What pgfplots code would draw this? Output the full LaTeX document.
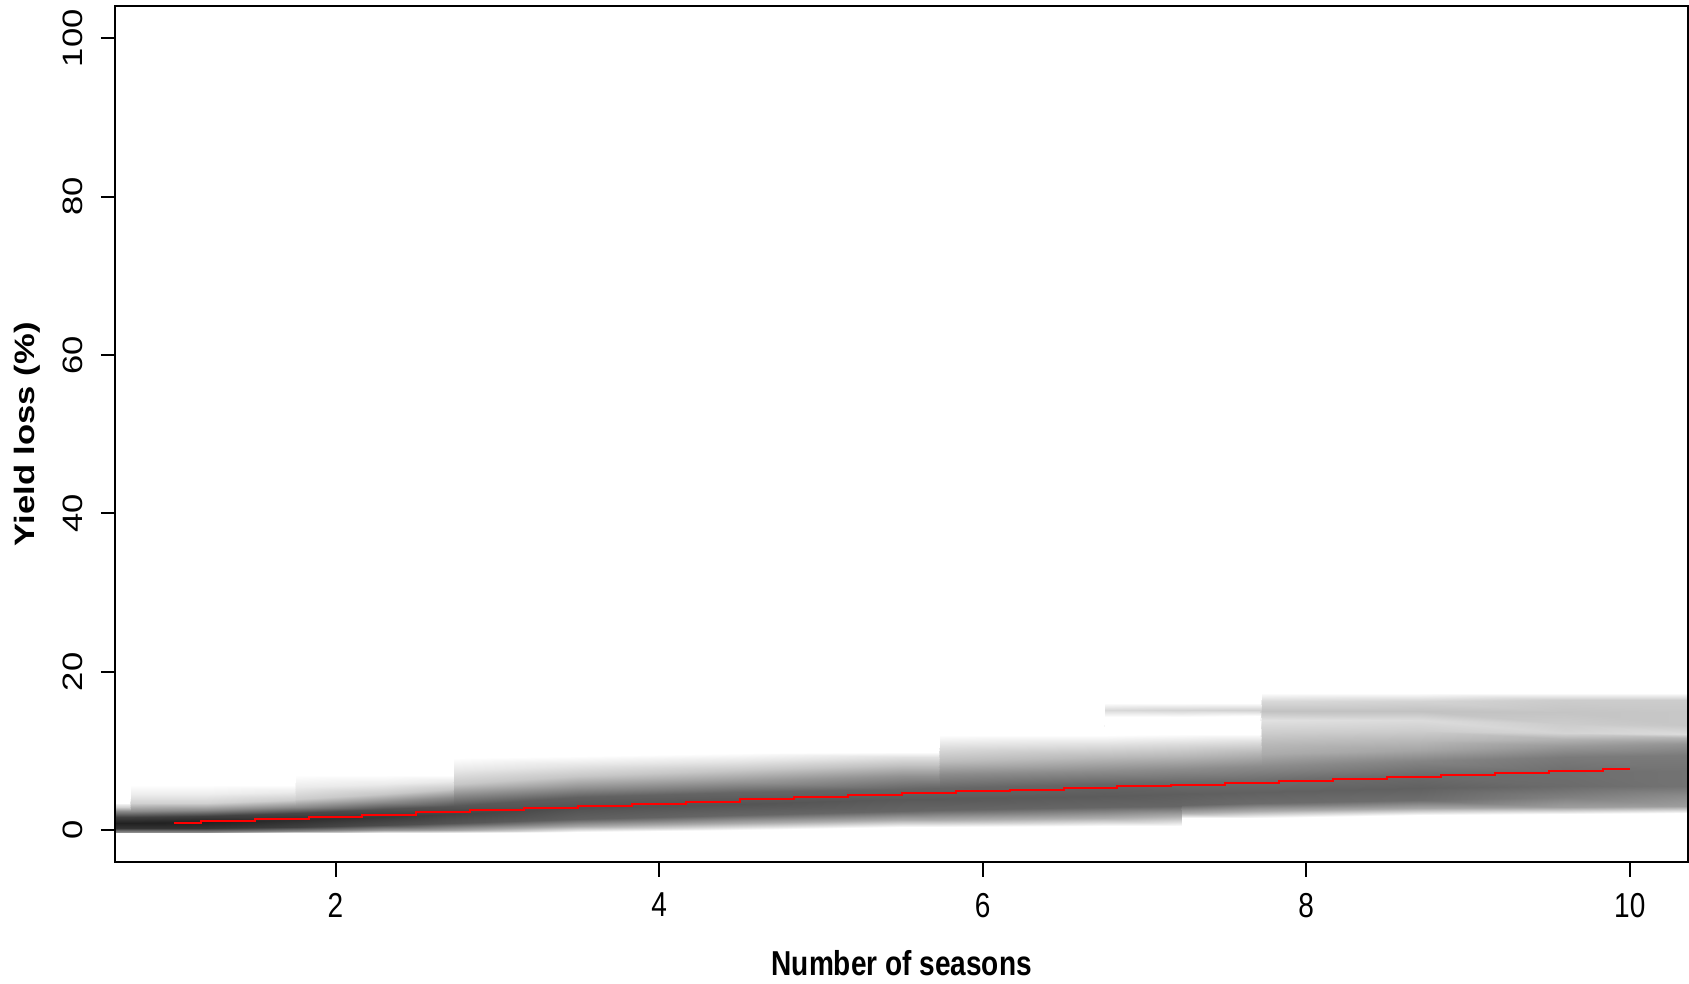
\documentclass[border=0pt]{standalone}
\usepackage{fontspec}
\setmainfont{Liberation Sans}
\usepackage{pgfplots}
\usepackage{pgfplotstable}
\pgfplotsset{compat=1.18}

% density of simulated yield loss: x, y, darkness (0 = white, 1 = black)
% one block per x column, 13 points per column from bottom to top
\pgfplotstableread{
x y d
0.64 -0.40 0
0.64 -0.15 0.45
0.64 0.30 0.80
0.64 0.90 0.87
0.64 1.70 0.75
0.64 2.40 0.45
0.64 3.00 0.18
0.64 3.30 0.06
0.64 3.45 0
0.64 3.60 0
0.64 3.80 0
0.64 4.00 0
0.64 4.20 0

0.725 -0.40 0
0.725 -0.15 0.45
0.725 0.30 0.80
0.725 0.90 0.87
0.725 1.70 0.75
0.725 2.40 0.45
0.725 3.00 0.18
0.725 3.30 0.06
0.725 3.45 0
0.725 3.60 0
0.725 3.80 0
0.725 4.00 0
0.725 4.20 0

0.735 -0.40 0
0.735 -0.15 0.45
0.735 0.30 0.80
0.735 0.90 0.87
0.735 1.70 0.75
0.735 2.50 0.45
0.735 3.40 0.18
0.735 4.60 0.07
0.735 5.75 0
0.735 5.90 0
0.735 6.10 0
0.735 6.30 0
0.735 6.50 0

1.2 -0.40 0
1.2 -0.15 0.45
1.2 0.30 0.80
1.2 1.00 0.87
1.2 1.80 0.75
1.2 2.60 0.45
1.2 3.50 0.18
1.2 4.60 0.07
1.2 5.75 0
1.2 5.90 0
1.2 6.10 0
1.2 6.30 0
1.2 6.50 0

1.745 -0.40 0
1.745 -0.10 0.45
1.745 0.40 0.75
1.745 1.30 0.82
1.745 2.20 0.72
1.745 3.00 0.45
1.745 3.80 0.20
1.745 4.80 0.08
1.745 5.75 0
1.745 5.90 0
1.745 6.10 0
1.745 6.30 0
1.745 6.50 0

1.755 -0.40 0
1.755 -0.10 0.45
1.755 0.40 0.75
1.755 1.30 0.82
1.755 2.20 0.72
1.755 3.00 0.45
1.755 4.00 0.20
1.755 5.50 0.08
1.755 7.00 0
1.755 7.15 0
1.755 7.30 0
1.755 7.45 0
1.755 7.60 0

2.3 -0.40 0
2.3 0.00 0.40
2.3 0.70 0.70
2.3 1.70 0.78
2.3 2.70 0.68
2.3 3.60 0.45
2.3 4.60 0.22
2.3 5.80 0.08
2.3 7.00 0
2.3 7.15 0
2.3 7.30 0
2.3 7.45 0
2.3 7.60 0

2.725 -0.35 0
2.725 0.10 0.35
2.725 0.90 0.67
2.725 2.00 0.74
2.725 3.10 0.66
2.725 4.20 0.45
2.725 5.20 0.22
2.725 6.20 0.08
2.725 7.00 0
2.725 7.15 0
2.725 7.30 0
2.725 7.45 0
2.725 7.60 0

2.735 -0.35 0
2.735 0.10 0.35
2.735 0.90 0.67
2.735 2.00 0.74
2.735 3.10 0.66
2.735 4.40 0.45
2.735 5.80 0.22
2.735 7.50 0.10
2.735 9.15 0
2.735 9.30 0
2.735 9.45 0
2.735 9.60 0
2.735 9.75 0

3.5 -0.20 0
3.5 0.50 0.35
3.5 1.40 0.62
3.5 2.80 0.68
3.5 4.20 0.62
3.5 5.50 0.42
3.5 6.90 0.22
3.5 8.30 0.10
3.5 9.40 0
3.5 9.55 0
3.5 9.70 0
3.5 9.85 0
3.5 10.00 0

4.5 0.00 0
4.5 0.90 0.33
4.5 1.90 0.60
4.5 3.30 0.67
4.5 4.80 0.60
4.5 6.20 0.40
4.5 7.60 0.22
4.5 8.80 0.10
4.5 9.70 0
4.5 9.85 0
4.5 10.00 0
4.5 10.15 0
4.5 10.30 0

5.5 0.40 0
5.5 1.30 0.32
5.5 2.50 0.60
5.5 3.90 0.65
5.5 5.20 0.60
5.5 6.80 0.43
5.5 8.20 0.24
5.5 9.20 0.12
5.5 9.90 0
5.5 10.05 0
5.5 10.20 0
5.5 10.35 0
5.5 10.50 0

5.725 0.45 0
5.725 1.35 0.32
5.725 2.60 0.60
5.725 4.00 0.65
5.725 5.30 0.60
5.725 6.90 0.43
5.725 8.30 0.24
5.725 9.30 0.12
5.725 9.95 0
5.725 10.10 0
5.725 10.25 0
5.725 10.40 0
5.725 10.55 0

5.735 0.45 0
5.735 1.35 0.32
5.735 2.60 0.60
5.735 4.00 0.65
5.735 5.30 0.60
5.735 7.10 0.45
5.735 8.80 0.26
5.735 10.60 0.12
5.735 12.05 0
5.735 12.20 0
5.735 12.35 0
5.735 12.50 0
5.735 12.65 0

6.745 0.60 0
6.745 1.60 0.32
6.745 2.90 0.60
6.745 4.30 0.64
6.745 5.80 0.60
6.745 7.50 0.45
6.745 9.20 0.27
6.745 10.80 0.13
6.745 12.05 0
6.745 12.20 0
6.745 12.35 0
6.745 12.50 0
6.745 12.65 0

6.755 0.60 0
6.755 1.60 0.32
6.755 2.90 0.60
6.755 4.30 0.64
6.755 5.80 0.60
6.755 7.50 0.45
6.755 9.20 0.27
6.755 10.80 0.13
6.755 12.05 0
6.755 14.30 0
6.755 15.20 0.15
6.755 16.10 0
6.755 16.30 0

7.225 0.50 0
7.225 1.80 0.32
7.225 3.10 0.60
7.225 4.60 0.63
7.225 6.10 0.58
7.225 7.80 0.45
7.225 9.40 0.28
7.225 10.90 0.14
7.225 12.10 0
7.225 14.35 0
7.225 15.20 0.17
7.225 16.10 0
7.225 16.30 0

7.235 1.50 0
7.235 2.20 0.32
7.235 3.20 0.60
7.235 4.60 0.63
7.235 6.10 0.58
7.235 7.80 0.45
7.235 9.40 0.28
7.235 10.90 0.14
7.235 12.10 0
7.235 14.35 0
7.235 15.20 0.17
7.235 16.10 0
7.235 16.30 0

7.715 1.60 0
7.715 2.40 0.32
7.715 3.40 0.58
7.715 4.90 0.62
7.715 6.40 0.57
7.715 8.10 0.45
7.715 9.60 0.30
7.715 11.00 0.15
7.715 12.20 0
7.715 14.40 0
7.715 15.20 0.18
7.715 16.10 0
7.715 16.30 0

7.725 1.60 0
7.725 2.40 0.32
7.725 3.40 0.58
7.725 4.90 0.62
7.725 6.40 0.57
7.725 8.10 0.45
7.725 9.60 0.33
7.725 11.00 0.27
7.725 12.30 0.20
7.725 13.90 0.12
7.725 15.10 0.24
7.725 16.30 0.15
7.725 17.30 0

8.7 1.90 0
8.7 2.80 0.35
8.7 3.80 0.57
8.7 5.30 0.62
8.7 7.00 0.58
8.7 8.80 0.48
8.7 10.20 0.35
8.7 11.30 0.28
8.7 12.50 0.20
8.7 13.90 0.14
8.7 15.10 0.24
8.7 16.30 0.17
8.7 17.30 0

9.6 2.10 0
9.6 3.00 0.38
9.6 4.20 0.50
9.6 5.60 0.58
9.6 7.40 0.57
9.6 9.30 0.52
9.6 10.60 0.40
9.6 11.50 0.30
9.6 12.30 0.17
9.6 13.40 0.20
9.6 15.00 0.23
9.6 16.40 0.20
9.6 17.30 0

10.36 2.20 0
10.36 3.10 0.38
10.36 4.30 0.45
10.36 5.60 0.55
10.36 7.50 0.55
10.36 9.50 0.52
10.36 10.90 0.42
10.36 11.60 0.30
10.36 12.20 0.14
10.36 13.30 0.22
10.36 15.00 0.22
10.36 16.50 0.20
10.36 17.35 0
}\density

\begin{document}
\fontsize{17.3bp}{20bp}\selectfont
\begin{tikzpicture}
\begin{axis}[
    name=ax,
    width=786.25bp, height=427.75bp, scale only axis,
    xmin=0.64, xmax=10.36, ymin=-4, ymax=104,
    xtick={2,4,6,8,10}, ytick={0,20,40,60,80,100},
    tick pos=left, tick align=outside, major tick length=7.3bp,
    every tick/.style={black, line width=1bp},
    axis line style={line width=1bp},
    axis on top,
    /pgf/number format/assume math mode=true,
    xticklabel style={xscale=0.81, inner sep=0pt, anchor=north, yshift=-8bp},
    yticklabel style={xshift=-9bp, rotate=90, yscale=0.81, inner sep=0pt, anchor=south},
    every axis x label/.style={at={(rel axis cs:0.5,0)}, yshift=-56.5bp, xscale=0.81, anchor=base},
    every axis y label/.style={at={(rel axis cs:0,0.5)}, xshift=-40.5bp, rotate=90, yscale=0.81, anchor=base},
    xlabel={\bfseries Number of seasons},
    ylabel={\bfseries Yield loss (\%)},
    colormap={bw}{gray(0cm)=(1); gray(1cm)=(0)},
    point meta min=0, point meta max=1,
]

\addplot[surf, shader=interp, point meta=explicit, mesh/ordering=y varies, mesh/rows=13]
    table[x=x, y=y, meta=d] {\density};

% mean yield loss
\addplot[red, line width=1bp, const plot mark mid] coordinates {
    (1.000,0.93) (1.333,1.20) (1.667,1.46) (2.000,1.73) (2.333,1.99)
    (2.667,2.26) (3.000,2.52) (3.333,2.80) (3.667,3.08) (4.000,3.35)
    (4.333,3.63) (4.667,3.91) (5.000,4.18) (5.333,4.46) (5.667,4.71)
    (6.000,4.92) (6.333,5.13) (6.667,5.35) (7.000,5.56) (7.333,5.77)
    (7.667,5.99) (8.000,6.20) (8.333,6.45) (8.667,6.71) (9.000,6.96)
    (9.333,7.22) (9.667,7.47) (10.000,7.73)
};
\end{axis}
\pgfresetboundingbox
\path ([xshift=-57.75bp, yshift=-61bp]ax.south west) rectangle ([xshift=0.5bp, yshift=3.25bp]ax.north east);
\end{tikzpicture}
\end{document}
